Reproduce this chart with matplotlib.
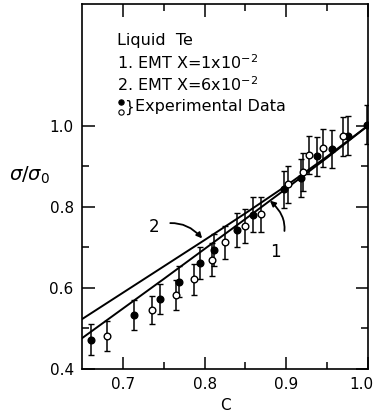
import matplotlib
matplotlib.use("Agg")
import matplotlib.pyplot as plt
from matplotlib.ticker import FixedLocator
from matplotlib.transforms import ScaledTranslation

# EMT curves
c_curve = [0.65, 0.70, 0.75, 0.80, 0.85, 0.90, 0.95, 1.00]
emt1 = [0.476, 0.549, 0.622, 0.696, 0.770, 0.845, 0.921, 1.000]
emt2 = [0.523, 0.588, 0.653, 0.718, 0.784, 0.852, 0.924, 1.000]

# Experimental data (filled)
c_filled = [0.661, 0.714, 0.746, 0.769, 0.795, 0.812, 0.840, 0.859, 0.897, 0.918, 0.937, 0.956, 0.976, 0.999]
s_filled = [0.472, 0.533, 0.572, 0.615, 0.661, 0.694, 0.743, 0.780, 0.843, 0.871, 0.924, 0.942, 0.975, 1.002]
e_filled = [0.038, 0.037, 0.037, 0.038, 0.040, 0.040, 0.042, 0.043, 0.045, 0.046, 0.047, 0.047, 0.048, 0.048]

# Experimental data (open)
c_open = [0.680, 0.736, 0.765, 0.787, 0.809, 0.825, 0.850, 0.869, 0.902, 0.920, 0.928, 0.945, 0.969]
s_open = [0.481, 0.546, 0.583, 0.621, 0.670, 0.712, 0.753, 0.782, 0.855, 0.886, 0.928, 0.946, 0.974]
e_open = [0.037, 0.035, 0.037, 0.039, 0.040, 0.041, 0.042, 0.043, 0.045, 0.046, 0.047, 0.047, 0.048]

x_major = [0.7, 0.8, 0.9, 1.0]
x_minor = [0.75, 0.85, 0.95]
y_major = [0.4, 0.6, 0.8, 1.0]
y_minor = [0.5, 0.7, 0.9]
x_labels = ["0.7", "0.8", "0.9", "1.0"]
y_labels = ["0.4", "0.6", "0.8", "1.0"]

fig = plt.figure(figsize=(3.75, 4.15), dpi=100)
ax = fig.add_axes([0.2187, 0.1108, 0.7626, 0.8796])

ax.plot(c_curve, emt1, color="black", lw=1.4, zorder=2)
ax.plot(c_curve, emt2, color="black", lw=1.4, zorder=2)

ax.errorbar(c_filled, s_filled, yerr=e_filled, fmt="o", color="black", ms=4.8,
            mfc="black", mec="black", mew=1.0, elinewidth=1.1, capsize=2.2, capthick=1.1, zorder=3)
ax.errorbar(c_open, s_open, yerr=e_open, fmt="o", color="black", ms=4.8,
            mfc="white", mec="black", mew=1.0, elinewidth=1.1, capsize=2.2, capthick=1.1, zorder=3)

ax.set_xlim(0.65, 1.0)
ax.set_ylim(0.4, 1.3)
ax.xaxis.set_major_locator(FixedLocator(x_major))
ax.xaxis.set_minor_locator(FixedLocator(x_minor))
ax.yaxis.set_major_locator(FixedLocator(y_major))
ax.yaxis.set_minor_locator(FixedLocator(y_minor))
ax.set_xticklabels(x_labels)
ax.set_yticklabels(y_labels)
ax.tick_params(which="both", direction="in", top=True, right=True, width=1.1)
ax.tick_params(which="major", length=9, labelsize=11, pad=6)
ax.tick_params(which="minor", length=5)
for s in ax.spines.values():
    s.set_linewidth(1.2)

last = ax.get_xticklabels()[-1]
last.set_transform(last.get_transform() + ScaledTranslation(-5 / 72, 0, fig.dpi_scale_trans))

ax.set_xlabel("C", fontsize=11, labelpad=4)
ax.text(-0.255, 0.53, r"$\sigma/\sigma_0$", transform=ax.transAxes, fontsize=14,
        ha="left", va="center")

fs = 11.5
ax.text(0.1224, 0.8986, "Liquid  Te", transform=ax.transAxes, fontsize=fs, va="center")
ax.text(0.1224, 0.838, "1. EMT X=1x10$^{-2}$", transform=ax.transAxes, fontsize=fs, va="center")
ax.text(0.1224, 0.778, "2. EMT X=6x10$^{-2}$", transform=ax.transAxes, fontsize=fs, va="center")
ax.plot([0.1346], [0.7315], "o", transform=ax.transAxes, ms=3.8, mfc="black", mec="black", mew=0.8, clip_on=False)
ax.plot([0.1346], [0.7035], "o", transform=ax.transAxes, ms=3.8, mfc="white", mec="black", mew=0.8, clip_on=False)
ax.text(0.148, 0.716, "}", transform=ax.transAxes, fontsize=11, va="center", ha="left")
ax.text(0.185, 0.718, "Experimental Data", transform=ax.transAxes, fontsize=fs, va="center")

# annotations
ax.annotate("2", xy=(0.797, 0.722), xytext=(0.738, 0.751), fontsize=12, ha="center", va="center",
            arrowprops=dict(arrowstyle="-|>", color="black", lw=1.3, shrinkA=6, shrinkB=0,
                            mutation_scale=8, connectionstyle="arc3,rad=-0.35"))
ax.annotate("1", xy=(0.880, 0.815), xytext=(0.887, 0.688), fontsize=12, ha="center", va="center",
            arrowprops=dict(arrowstyle="-|>", color="black", lw=1.3, shrinkA=7, shrinkB=0,
                            mutation_scale=8, connectionstyle="arc3,rad=0.45"))

fig.savefig("out.png", dpi=100)
